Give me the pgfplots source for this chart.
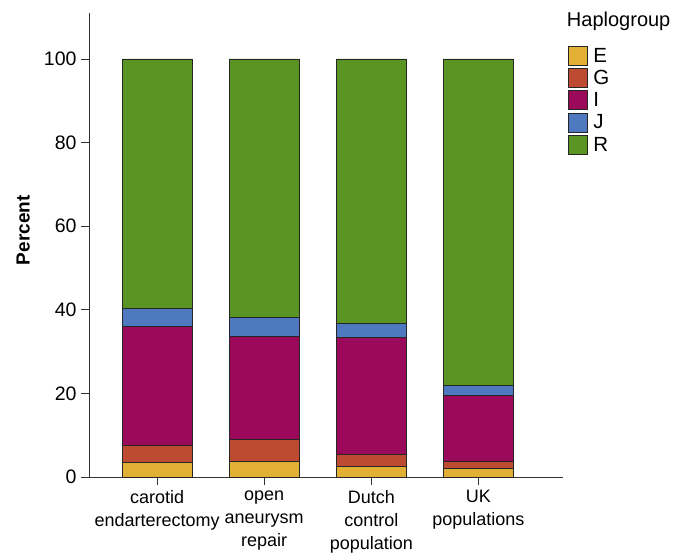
\documentclass[border=0pt]{standalone}
\usepackage{fontspec}
\setmainfont{Liberation Sans}
\usepackage{pgfplots}
\pgfplotsset{compat=1.18}
\definecolor{cE}{RGB}{226,176,52}
\definecolor{cG}{RGB}{189,75,50}
\definecolor{cI}{RGB}{155,10,90}
\definecolor{cJ}{RGB}{78,121,193}
\definecolor{cR}{RGB}{90,148,35}
\definecolor{axc}{RGB}{50,50,50}
\pgfplotsset{sq/.style={fill=#1, draw=black!85, line width=0.8pt,
  legend image code/.code={\draw[fill=#1, draw=black!85, line width=0.8pt] (0pt,-9.5pt) rectangle (19pt,9.5pt);}}}
\begin{document}
\begin{tikzpicture}[x=1pt,y=1pt]
\begin{axis}[at={(0,0)}, anchor=south west, scale only axis,
  width=474pt, height=464pt, clip=false,
  ybar stacked, bar width=70pt,
  xmin=-0.636, xmax=3.79, ymin=0, ymax=111,
  axis x line=bottom, axis y line=left,
  axis line style={-, draw=axc, line width=0.8pt},
  tick align=outside, major tick length=8pt,
  tick style={draw=axc, line width=0.8pt},
  xtick={0,1,2,3},
  xticklabels={carotid\\endarterectomy, open\\aneurysm\\repair, Dutch\\control\\population, UK\\populations},
  x tick label style={align=center, font=\fontsize{18}{23}\selectfont, anchor=north, yshift=-2pt},
  ytick={0,20,40,60,80,100},
  y tick label style={font=\fontsize{19.5}{24}\selectfont, xshift=-1pt},
  /pgf/number format/assume math mode=true,
  ylabel={\textbf{Percent}},
  ylabel style={font=\fontsize{19}{23}\selectfont, at={(axis description cs:-0.139,0.532)}, anchor=center},
  legend style={at={(axis description cs:1.004,0.934)}, anchor=north west, draw=none, fill=none,
    row sep=2.5pt,
    nodes={inner sep=1.5pt, font=\fontsize{20.5}{24}\selectfont},
    /tikz/every odd column/.append style={column sep=4pt}},
  legend cell align=left,
]
\addplot[sq=cE] coordinates {(0,3.5) (1,3.7) (2,2.5) (3,2.1)};
\addplot[sq=cG] coordinates {(0,4.0) (1,5.2) (2,2.8) (3,1.7)};
\addplot[sq=cI] coordinates {(0,28.5) (1,24.8) (2,28.0) (3,15.8)};
\addplot[sq=cJ] coordinates {(0,4.3) (1,4.4) (2,3.5) (3,2.3)};
\addplot[sq=cR] coordinates {(0,59.7) (1,61.9) (2,63.2) (3,78.1)};
\legend{E,G,I,J,R}
\node[anchor=base west, font=\fontsize{20}{24}\selectfont, inner sep=0pt] at (axis description cs:1.008,0.970) {Haplogroup};
\end{axis}
\path[use as bounding box] (-89pt,-74pt) rectangle (600pt,477pt);
\end{tikzpicture}
\end{document}
